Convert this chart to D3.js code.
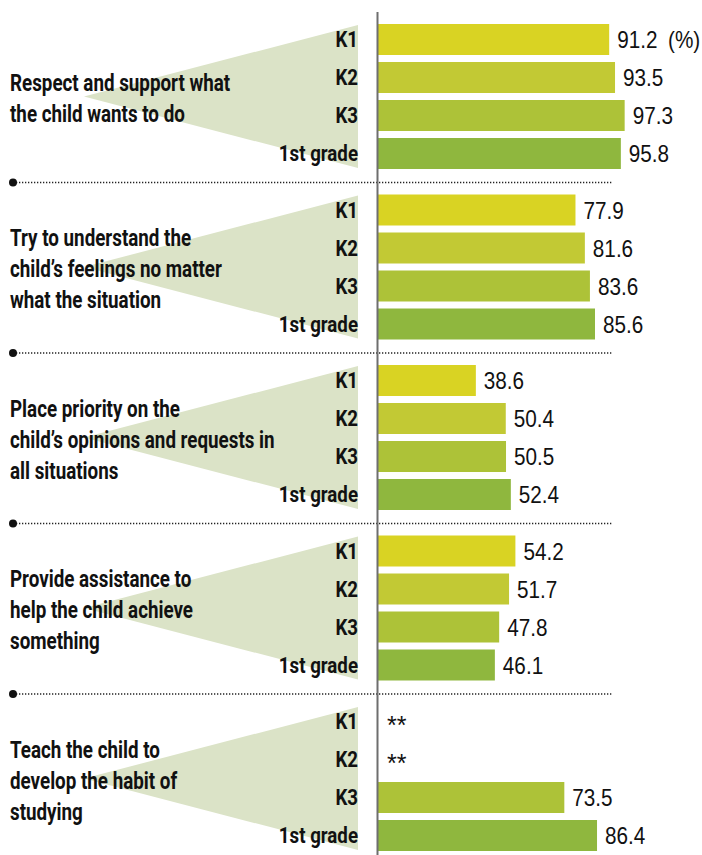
<!DOCTYPE html>
<html>
<head>
<meta charset="utf-8">
<script src="https://cdn.jsdelivr.net/npm/d3@7"></script>
<style>
  html, body { margin: 0; padding: 0; background: #fff; }
  .lbl { font-family: Roboto, "Liberation Sans", sans-serif; font-weight: bold; fill: #111; font-size: 22px; }
  .item-lbl { font-size: 23.5px; }
  .val { font-family: "Liberation Sans", "Noto Sans", sans-serif; fill: #111; font-size: 23px; }
</style>
</head>
<body>
<svg id="chart" width="702" height="855"></svg>
<script>
// Parenting attitudes, by grade (%)
const items = [
  ['Respect and support what', 'the child wants to do'],
  ['Try to understand the', 'child\u2019s feelings no matter', 'what the situation'],
  ['Place priority on the', 'child\u2019s opinions and requests in', 'all situations'],
  ['Provide assistance to', 'help the child achieve', 'something'],
  ['Teach the child to', 'develop the habit of', 'studying']
];
const grades = ['K1', 'K2', 'K3', '1st grade'];
const k1 = [91.2, 77.9, 38.6, 54.2, null];
const k2 = [93.5, 81.6, 50.4, 51.7, null];
const k3 = [97.3, 83.6, 50.5, 47.8, 73.5];
const grade1 = [95.8, 85.6, 52.4, 46.1, 86.4];
const gradeColors = ['#d9d323', '#c2c934', '#adc238', '#8fb73e'];

const series = [k1, k2, k3, grade1];
const svg = d3.select('#chart');

// condensed look: squeeze text horizontally
const SX_ITEM = 0.8, SX_LBL = 0.85, SX_VAL = 0.9;

const x = d3.scaleLinear().domain([0, 100]).range([378, 631.5]);
const gy = d3.scaleBand().domain(d3.range(items.length))
  .range([24, 24 + 170.5 * (items.length - 1) + 145])
  .paddingInner(25.5 / 170.5).paddingOuter(0);
const cy = d3.scaleBand().domain(grades).range([0, 145]).paddingInner(7 / 38).paddingOuter(0);
const color = d3.scaleOrdinal().domain(grades).range(gradeColors);

const rows = items.map((lines, i) => ({
  i, lines,
  vals: grades.map((g, j) => ({ grade: g, v: series[j][i] }))
}));

const g = svg.selectAll('g.item').data(rows).join('g')
  .attr('class', 'item')
  .attr('transform', d => `translate(0,${gy(d.i)})`);

// wedge pointing from label to bars
const h = cy.range()[1];
g.append('path')
  .attr('fill', '#dbe3c7')
  .attr('d', () => `M84,${h / 2}L358,1L358,${h - 1}Z`);

// separator above each item except the first
g.filter(d => d.i > 0).each(function() {
  const s = d3.select(this);
  s.append('line')
    .attr('x1', 13).attr('x2', 613)
    .attr('y1', -12).attr('y2', -12)
    .attr('stroke', '#222').attr('stroke-width', 1.6)
    .attr('stroke-dasharray', '1.3,1.7');
  s.append('circle').attr('cx', 13).attr('cy', -12).attr('r', 4).attr('fill', '#111');
});

// item label
g.selectAll('g.line').data(d => d.lines.map((t, k) => ({ t, k, n: d.lines.length })))
  .join('g')
  .attr('class', 'line')
  .attr('transform', d => `translate(10,${h / 2 + (d.k - (d.n - 1) / 2) * 31 + 10}) scale(${SX_ITEM},1)`)
  .append('text')
  .attr('class', 'lbl item-lbl')
  .text(d => d.t);

// grade labels
g.selectAll('g.grade').data(grades).join('g')
  .attr('class', 'grade')
  .attr('transform', d => `translate(358,${cy(d) + cy.bandwidth() / 2 + 7.5}) scale(${SX_LBL},1)`)
  .append('text')
  .attr('class', 'lbl')
  .attr('text-anchor', 'end')
  .text(d => d);

// bars
g.selectAll('rect.bar').data(d => d.vals.filter(v => v.v != null)).join('rect')
  .attr('class', 'bar')
  .attr('x', x(0))
  .attr('y', d => cy(d.grade))
  .attr('width', d => x(d.v) - x(0))
  .attr('height', cy.bandwidth())
  .attr('fill', d => color(d.grade));

// values, ** where no data
g.selectAll('g.val').data(d => d.vals).join('g')
  .attr('class', 'val')
  .attr('transform', d => d.v == null
    ? `translate(387,${cy(d.grade) + cy.bandwidth() / 2 + 12})`
    : `translate(${x(d.v) + 8},${cy(d.grade) + cy.bandwidth() / 2 + 8.5}) scale(${SX_VAL},1)`)
  .append('text')
  .attr('class', 'val')
  .style('font-size', d => d.v == null ? '25px' : null)
  .text(d => d.v == null ? '**' : d3.format('.1f')(d.v));

// unit
svg.append('g')
  .attr('transform', `translate(668,${gy(0) + cy('K1') + cy.bandwidth() / 2 + 8.5}) scale(${SX_VAL},1)`)
  .append('text')
  .attr('class', 'val')
  .text('(%)');

// vertical axis line
svg.append('line')
  .attr('x1', 377.5).attr('x2', 377.5)
  .attr('y1', 12).attr('y2', 855)
  .attr('stroke', '#6e6e6e').attr('stroke-width', 2);
</script>
</body>
</html>
